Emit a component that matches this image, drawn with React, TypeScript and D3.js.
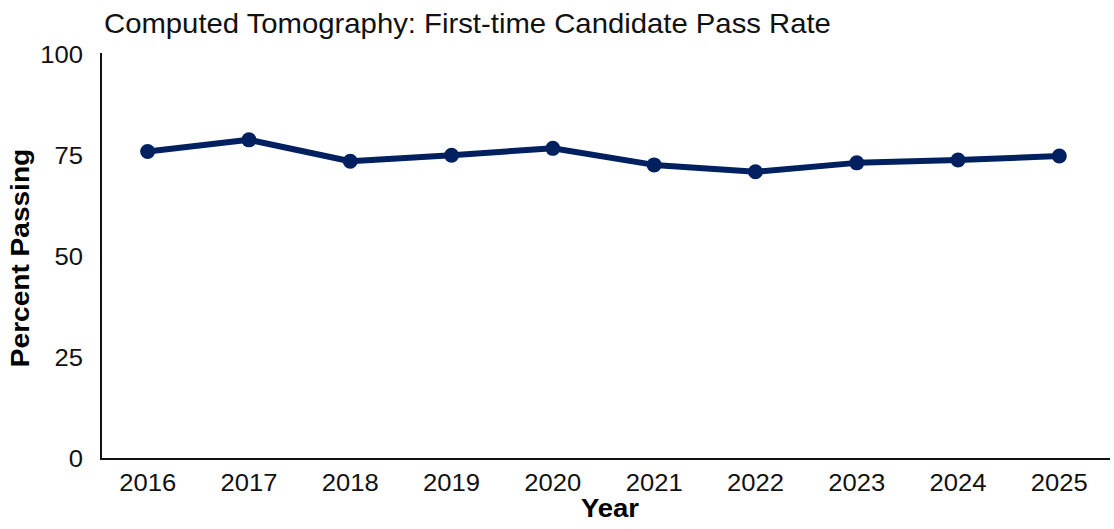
import * as React from "react";
import * as d3 from "d3";

const years = ["2016", "2017", "2018", "2019", "2020", "2021", "2022", "2023", "2024", "2025"];
const passRates = [76.1, 79.0, 73.7, 75.2, 76.9, 72.8, 71.1, 73.3, 74.0, 75.0];
const yTicks = [0, 25, 50, 75, 100];

const W = 1114;
const H = 529;
const navy = "#002060";
const font = "'Liberation Sans', Arial, sans-serif";

// the reference text is a bit wider than it is tall, so stretch it sideways
const Txt = (p: { x: number; y: number; sx?: number; rotate?: number; children: React.ReactNode; [k: string]: any }) => {
  const { x, y, sx = 1.09, rotate, children, ...rest } = p;
  const tf = rotate ? `translate(${x},${y}) rotate(${rotate}) scale(${sx},1)` : `translate(${x},${y}) scale(${sx},1)`;
  return (
    <text transform={tf} {...rest}>
      {children}
    </text>
  );
};

export default function App() {
  const x = d3.scaleBand().domain(years).range([97, 1110]);
  const y = d3.scaleLinear().domain([0, 100]).range([459, 55]);
  const cx = (d: string) => (x(d) as number) + x.bandwidth() / 2;

  const line = d3
    .line<number>()
    .x((_, i) => cx(years[i]))
    .y((d) => y(d));

  return (
    <svg width={W} height={H} style={{ position: "absolute", left: 0, top: 0, background: "#fff" }} fontFamily={font}>
      <Txt x={104} y={33} sx={1.085} fontSize={27} fill="#111">
        Computed Tomography: First-time Candidate Pass Rate
      </Txt>

      {/* axes */}
      <line x1={101} x2={101} y1={y(100) - 2} y2={y(0)} stroke="#111" strokeWidth={2} />
      <line x1={100} x2={1110} y1={y(0)} y2={y(0)} stroke="#111" strokeWidth={2} />

      {yTicks.map((t) => (
        <Txt key={t} x={83} y={y(t)} dy="0.35em" textAnchor="end" fontSize={23.5} fill="#111">
          {t}
        </Txt>
      ))}
      {years.map((yr) => (
        <Txt key={yr} x={cx(yr)} y={491} textAnchor="middle" fontSize={23.5} fill="#111">
          {yr}
        </Txt>
      ))}

      <Txt
        x={29}
        y={258}
        rotate={-90}
        sx={1.08}
        textAnchor="middle"
        fontSize={26}
        fontWeight="bold"
        fill="#000"
      >
        Percent Passing
      </Txt>
      <Txt x={610} y={517} sx={1.1} textAnchor="middle" fontSize={25} fontWeight="bold" fill="#000">
        Year
      </Txt>

      <path d={line(passRates) || ""} fill="none" stroke={navy} strokeWidth={6} strokeLinejoin="round" />
      {passRates.map((v, i) => (
        <circle key={years[i]} cx={cx(years[i])} cy={y(v)} r={7.5} fill={navy} />
      ))}
    </svg>
  );
}
